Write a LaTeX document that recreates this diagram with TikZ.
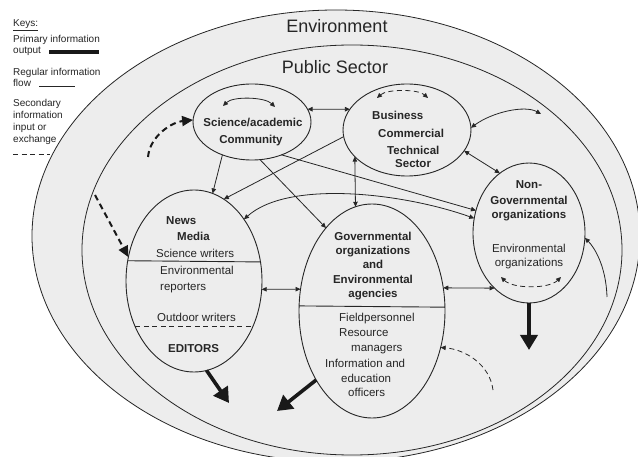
\documentclass[tikz,border=0pt]{standalone}
\usepackage{fontspec}
\setmainfont{Liberation Sans}
\usetikzlibrary{arrows.meta,shapes.geometric,calc}
\definecolor{ringfill}{RGB}{237,237,237}
\definecolor{ink}{RGB}{38,38,38}

\tikzset{
  org/.style={ellipse, draw=ink, line width=0.9pt, inner sep=0pt, outer sep=0pt},
  ring/.style={draw=ink, line width=0.8pt, fill=ringfill},
  title/.style={font=\fontsize{18}{20}\selectfont, text=ink, inner sep=0pt, anchor=base},
  hd/.style={font=\bfseries\fontsize{11.5}{13}\selectfont, text=ink, inner sep=0pt, anchor=base},
  hdl/.style={hd, anchor=base west},
  rg/.style={font=\fontsize{11.5}{13}\selectfont, text=ink, inner sep=0pt, anchor=base west},
  key/.style={font=\fontsize{10}{12}\selectfont, text=ink, inner sep=0pt, anchor=base west},
  tip/.tip={Triangle[length=5pt,width=4.5pt]},
  flow/.style={draw=ink, line width=0.8pt, -tip},
  twoway/.style={draw=ink, line width=0.8pt, tip-tip},
  primary/.style={draw=black!90, line width=3.6pt, -{Triangle[length=15pt,width=17pt]}},
  secondary/.style={draw=black!90, line width=2pt, dash pattern=on 6pt off 4pt,
    -{Triangle[length=11pt,width=10pt]}},
  minor/.style={draw=ink, line width=0.8pt, dash pattern=on 5pt off 3.5pt},
}

\begin{document}
\begin{tikzpicture}[x=1pt,y=-1pt]
\useasboundingbox (0,0) rectangle (638,457);
\clip (0,0) rectangle (638,457);
\fill[white] (0,0) rectangle (638,457);

% nested spheres
\draw[ring] (336,236) ellipse [x radius=304pt, y radius=226pt];
\draw[ring] (352,250) ellipse [x radius=270pt, y radius=205pt];
\node[title] (tEnv) at (337,33) {Environment};
\node[title] (tPub) at (335,74) {Public Sector};

% actors
\node[org, minimum width=118pt, minimum height=76pt]  (sci)  at (252,122) {};
\node[org, minimum width=128pt, minimum height=92pt]  (bus)  at (407,130) {};
\node[org, minimum width=136pt, minimum height=182pt] (news) at (194,281) {};
\node[org, minimum width=146pt, minimum height=214pt] (gov)  at (372,311) {};
\node[org, minimum width=112pt, minimum height=140pt] (ngo)  at (529,233) {};

% science / academic community
\node[hd] (sciA) at (253,127) {Science/academic};
\node[hd] (sciB) at (251,144) {Community};
\draw[twoway] ($(sci.center)+(-29,-16)$) .. controls +(10,-10) and +(-10,-10) .. ($(sci.center)+(23,-15)$);

% business sector
\node[hdl] (busA) at (372,120) {Business};
\node[hdl] (busB) at (378,138) {Commercial};
\node[hdl] (busC) at (387,155) {Technical};
\node[hdl] (busD) at (395,168) {Sector};
\draw[minor, tip-tip] ($(bus.center)+(-30,-32)$) .. controls +(10,-9) and +(-10,-9) .. ($(bus.center)+(21,-32)$);

% news media
\node[hdl] (nwA) at (166,225) {News};
\node[hdl] (nwB) at (177,241) {Media};
\node[rg]  (nwC) at (156,258) {Science writers};
\node[rg]  (nwD) at (160,275) {Environmental};
\node[rg]  (nwE) at (160,291) {reporters};
\node[rg]  (nwF) at (157,322) {Outdoor writers};
\node[hdl] (nwG) at (168,353) {EDITORS};
\draw[ink, line width=0.9pt] (news.163.2) -- (news.16.8);
\draw[minor] (news.218.9) -- (news.-38.9);

% governmental organizations
\node[hd] (gvA) at (373,241) {Governmental};
\node[hd] (gvB) at (373,255) {organizations};
\node[hd] (gvC) at (373,269) {and};
\node[hd] (gvD) at (373,284) {Environmental};
\node[hd] (gvE) at (373,298) {agencies};
\draw[ink, line width=0.9pt] (gov.176.1) -- (gov.3.9);
\node[rg] (gvF) at (339,322) {Fieldpersonnel};
\node[rg] (gvG) at (339,337) {Resource};
\node[rg] (gvH) at (351,352) {managers};
\node[rg] (gvI) at (325,368) {Information and};
\node[rg] (gvJ) at (341,383) {education};
\node[rg] (gvK) at (348,397) {officers};

% non-governmental organizations
\node[hd] (ngA) at (529,189) {Non-};
\node[hd] (ngB) at (529,205) {Governmental};
\node[hd] (ngC) at (529,219) {organizations};
\node[hd, font=\fontsize{11.5}{13}\selectfont] (ngD) at (529,253) {Environmental};
\node[hd, font=\fontsize{11.5}{13}\selectfont] (ngE) at (529,267) {organizations};
\draw[minor, tip-tip] ($(ngo.center)+(-28,44)$) .. controls +(12,12) and +(-12,12) .. ($(ngo.center)+(32,44)$);

% regular information flows
\draw[twoway] (sci.13) -- (bus.160);
\draw[flow] (sci.-132) -- (news.78);
\draw[flow] (bus.186) -- (news.70);
\draw[flow] (sci.-78) -- (gov.119);
\draw[flow] (sci.-48) -- (ngo.157);
\draw[twoway] (news.51) .. controls +(45,-40) and +(-70,-25) .. (ngo.165);
\draw[twoway] (bus.207) -- (gov.99);
\draw[twoway] (news.-7) -- (gov.163);
\draw[twoway] (gov.18) -- (ngo.238);
\draw[twoway] (bus.-20) -- (ngo.116);
\coordinate (busOut) at (541,114);
\draw[twoway] (bus.2) .. controls +(22,-16) and +(-16,-9) .. (busOut);
\coordinate (ngoIn) at (607,297);
\draw[flow] (ngoIn) .. controls +(-1,-32) and +(9,9) .. (ngo.-5);

% secondary input / exchange
\coordinate (sciIn) at (148,157);
\draw[secondary] (sciIn) .. controls +(2,-22) and +(-20,2) .. (sci.178);
\coordinate (newsIn) at (95,195);
\draw[secondary] (newsIn) -- (news.160);
\coordinate (govIn) at (493,390);
\draw[minor, -tip] (govIn) .. controls +(-3,-25) and +(25,2) .. (gov.-28);

% primary information output
\coordinate (newsOut) at (229,403);
\draw[primary] (news.-82) -- (newsOut);
\coordinate (govOut) at (277,411);
\draw[primary] (gov.-129.4) -- (govOut);
\coordinate (ngoOut) at (529,350);
\draw[primary] (ngo.-90) -- (ngoOut);

% keys
\node[key] (kA) at (13,27) {\underline{Keys:}};
\node[key] (kB) at (13,43) {Primary information};
\node[key] (kC) at (13,54) {output};
\coordinate (kP1) at (49,52); \coordinate (kP2) at (99,52);
\draw[black!90, line width=4pt] (kP1) -- (kP2);
\node[key] (kD) at (13,76) {Regular information};
\node[key] (kE) at (13,87) {flow};
\coordinate (kR1) at (39,86); \coordinate (kR2) at (75,86);
\draw[ink, line width=0.8pt] (kR1) -- (kR2);
\node[key] (kF) at (13,107) {Secondary};
\node[key] (kG) at (13,119) {information};
\node[key] (kH) at (13,131) {input or};
\node[key] (kI) at (13,143) {exchange};
\coordinate (kS1) at (13,154); \coordinate (kS2) at (50,154);
\draw[ink, line width=0.9pt, dash pattern=on 5pt off 3.5pt] (kS1) -- (kS2);
\end{tikzpicture}
\end{document}
